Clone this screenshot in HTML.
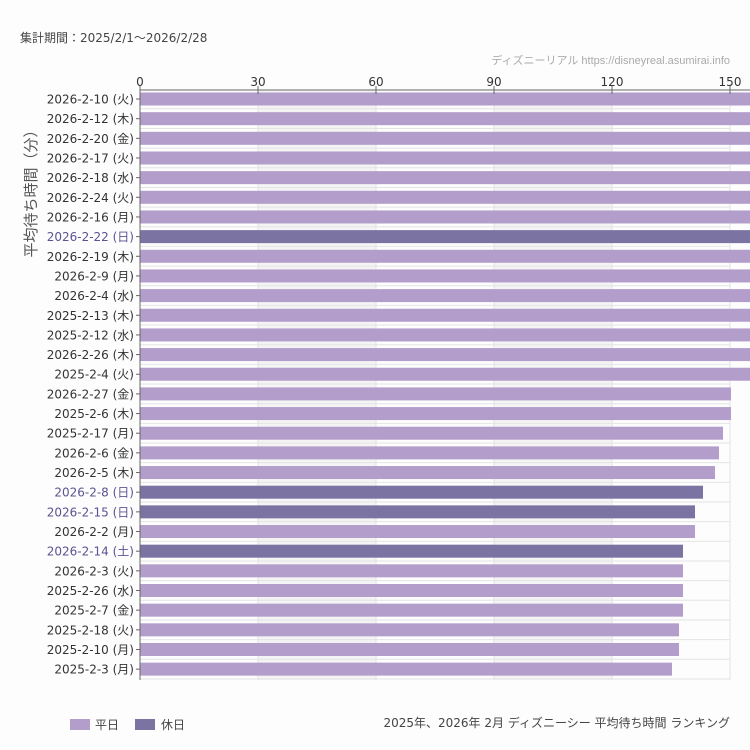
<!DOCTYPE html><html><head><meta charset="utf-8"><style>
body{margin:0;background:#fcfdfc;}
svg{display:block;font-family:"DejaVu Sans","Noto Sans CJK JP",sans-serif;}
</style></head><body>
<svg width="750" height="750" viewBox="0 0 750 750">
<rect width="750" height="750" fill="#fcfdfc"/>
<text x="20" y="42" font-size="12" fill="#444">集計期間：2025/2/1～2026/2/28</text>
<text x="730" y="64" font-size="11" fill="#aaa" text-anchor="end" style="font-family:'Liberation Sans Narrow','Liberation Sans','Noto Sans CJK JP',sans-serif">ディズニーリアル https://disneyreal.asumirai.info</text>
<rect x="258" y="90" width="118" height="590" fill="#f4f4f4"/>
<rect x="494" y="90" width="118" height="590" fill="#f4f4f4"/>
<g id="h" stroke="#e4e4e4" stroke-width="1"></g>
<g stroke="#e2e2e2"><line x1="258" y1="90" x2="258" y2="680"/><line x1="376" y1="90" x2="376" y2="680"/><line x1="494" y1="90" x2="494" y2="680"/><line x1="612" y1="90" x2="612" y2="680"/><line x1="730" y1="90" x2="730" y2="680"/></g>
<g id="bars"></g>
<line x1="140" y1="90" x2="750" y2="90" stroke="#666"/>
<line x1="140" y1="90" x2="140" y2="680" stroke="#666"/>
<g font-size="12" fill="#333" text-anchor="middle">
<text x="140" y="86">0</text><text x="258" y="86">30</text><text x="376" y="86">60</text><text x="494" y="86">90</text><text x="612" y="86">120</text><text x="730" y="86">150</text></g>
<g stroke="#666"><line x1="140" y1="86" x2="140" y2="94"/><line x1="258" y1="86" x2="258" y2="94"/><line x1="376" y1="86" x2="376" y2="94"/><line x1="494" y1="86" x2="494" y2="94"/><line x1="612" y1="86" x2="612" y2="94"/><line x1="730" y1="86" x2="730" y2="94"/></g>
<g id="labels" font-size="12" text-anchor="end"></g>
<text transform="translate(36,190) rotate(-90)" font-size="15" fill="#555" text-anchor="middle">平均待ち時間（分）</text>
<rect x="70" y="719" width="20" height="11" fill="#b39dcb"/><text x="95" y="729" font-size="12" fill="#444">平日</text>
<rect x="135" y="719" width="20" height="11" fill="#7b74a3"/><text x="161" y="729" font-size="12" fill="#444">休日</text>
<text x="730" y="727" font-size="12" fill="#444" text-anchor="end">2025年、2026年 2月 ディズニーシー 平均待ち時間 ランキング</text>
</svg>
<script>
var d=[["2026-2-10 (火)",160,0],["2026-2-12 (木)",160,0],["2026-2-20 (金)",160,0],["2026-2-17 (火)",160,0],["2026-2-18 (水)",160,0],["2026-2-24 (火)",160,0],["2026-2-16 (月)",160,0],["2026-2-22 (日)",160,1],["2026-2-19 (木)",160,0],["2026-2-9 (月)",160,0],["2026-2-4 (水)",160,0],["2025-2-13 (木)",160,0],["2025-2-12 (水)",160,0],["2026-2-26 (木)",160,0],["2025-2-4 (火)",160,0],["2026-2-27 (金)",731,0],["2025-2-6 (木)",731,0],["2025-2-17 (月)",723,0],["2026-2-6 (金)",719,0],["2026-2-5 (木)",715,0],["2026-2-8 (日)",703,1],["2026-2-15 (日)",695,1],["2026-2-2 (月)",695,0],["2026-2-14 (土)",683,1],["2026-2-3 (火)",683,0],["2025-2-26 (水)",683,0],["2025-2-7 (金)",683,0],["2025-2-18 (火)",679,0],["2025-2-10 (月)",679,0],["2025-2-3 (月)",672,0]];
var ns="http://www.w3.org/2000/svg",B=document.getElementById("bars"),L=document.getElementById("labels"),H=document.getElementById("h");
d.forEach(function(r,i){var cy=99+i*19.66;var end=r[1]==160?760:r[1];
var b=document.createElementNS(ns,"rect");b.setAttribute("x",140);b.setAttribute("y",cy-6.5);b.setAttribute("width",end-140);b.setAttribute("height",13);b.setAttribute("fill",r[2]?"#7b74a3":"#b39dcb");B.appendChild(b);
var l=document.createElementNS(ns,"line");l.setAttribute("x1",140);l.setAttribute("x2",730);l.setAttribute("y1",cy+9.8);l.setAttribute("y2",cy+9.8);H.appendChild(l);
var t=document.createElementNS(ns,"text");t.setAttribute("x",134);t.setAttribute("y",cy+4.5);t.setAttribute("fill",r[2]?"#5b5393":"#333");t.textContent=r[0];L.appendChild(t);
var k=document.createElementNS(ns,"line");k.setAttribute("x1",136);k.setAttribute("x2",140);k.setAttribute("y1",cy);k.setAttribute("y2",cy);k.setAttribute("stroke","#666");L.appendChild(k);});
</script>
</body></html>
